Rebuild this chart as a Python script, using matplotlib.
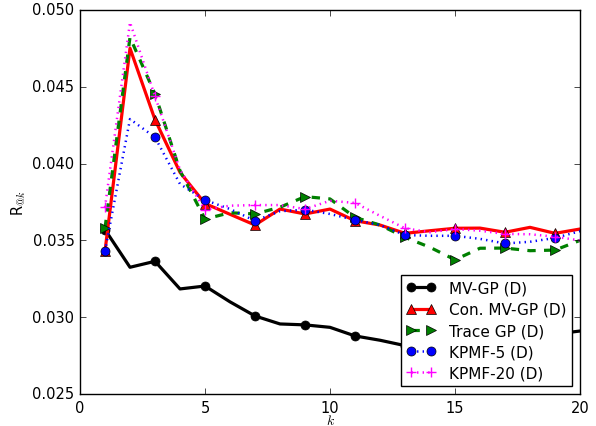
import matplotlib
matplotlib.use("Agg")
import matplotlib.pyplot as plt
import numpy as np

plt.style.use('classic')

k = list(range(1, 21))
mv_gp = [0.0357, 0.03325, 0.03364, 0.03184, 0.03203, 0.0310, 0.03008, 0.02956, 0.0295, 0.02934,
         0.02878, 0.0285, 0.02815, 0.0280, 0.0279, 0.0281, 0.0283, 0.0286, 0.0289, 0.0291]
con_mv_gp = [0.0343, 0.04751, 0.04286, 0.03943, 0.0374, 0.0367, 0.0360, 0.03704, 0.03672, 0.03704,
             0.03628, 0.0360, 0.03546, 0.03563, 0.03579, 0.0358, 0.03553, 0.03585, 0.03546, 0.03574]
trace_gp = [0.0358, 0.04822, 0.04453, 0.03954, 0.03639, 0.0368, 0.03672, 0.03716, 0.03785, 0.0377,
            0.0365, 0.0360, 0.0352, 0.03455, 0.03374, 0.03449, 0.0345, 0.03433, 0.03437, 0.0350]
kpmf5 = [0.0343, 0.0429, 0.04171, 0.03867, 0.03763, 0.03704, 0.03628, 0.0369, 0.0370, 0.03672,
         0.03633, 0.0360, 0.03535, 0.0353, 0.0353, 0.0351, 0.0348, 0.03491, 0.03516, 0.0356]
kpmf20 = [0.03716, 0.0492, 0.04438, 0.0396, 0.0370, 0.03726, 0.0373, 0.0373, 0.03704, 0.03758,
          0.03744, 0.0366, 0.03579, 0.03553, 0.03574, 0.03563, 0.03542, 0.0354, 0.03524, 0.0350]

labels = ['MV-GP (D)', 'Con. MV-GP (D)', 'Trace GP (D)', 'KPMF-5 (D)', 'KPMF-20 (D)']
xticks = [0, 5, 10, 15, 20]
yticks = [0.025, 0.030, 0.035, 0.040, 0.045, 0.050]
yticklabels = ['0.025', '0.030', '0.035', '0.040', '0.045', '0.050']

fig = plt.figure(figsize=(5.96, 4.27), dpi=100)
ax = fig.add_axes([80/596, 32/427, 500/596, 384/427])

ax.plot(k, mv_gp, color='black', linestyle='-', linewidth=2.3, marker='o', markersize=6.5,
        markevery=2, label=labels[0])
ax.plot(k, con_mv_gp, color='red', linestyle='-', linewidth=2.3, marker='^', markersize=6.5,
        markevery=2, label=labels[1])
ax.plot(k, trace_gp, color='green', linestyle='--', linewidth=2.3, marker='>', markersize=6.5,
        markevery=2, label=labels[2])
ax.plot(k, kpmf5, color='blue', linestyle=':', linewidth=1.8, marker='o', markersize=6.5,
        markevery=2, label=labels[3])
ax.plot(k, kpmf20, color='magenta', linestyle=':', linewidth=1.8, marker='+', markersize=7,
        markeredgewidth=1.0, markevery=2, label=labels[4])

ax.set_xlim(0, 20)
ax.set_ylim(0.025, 0.050)
ax.set_xticks(xticks)
ax.set_yticks(yticks)
ax.set_yticklabels(yticklabels)
ax.tick_params(labelsize=10.5, pad=4)
ax.set_xlabel('$k$', labelpad=-1, fontsize=10)
ax.set_ylabel('R$_{@k}$', fontsize=10.5, labelpad=3)
ax.legend(loc='lower right', fontsize=11, numpoints=2, handlelength=1.9,
          handletextpad=0.85, labelspacing=0.4, borderaxespad=0.5, fancybox=False)

fig.savefig('out.png', dpi=100)
